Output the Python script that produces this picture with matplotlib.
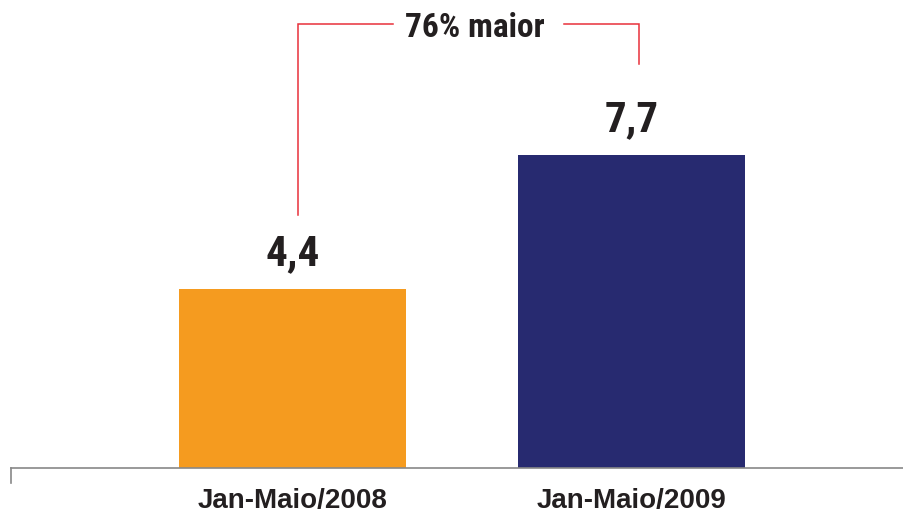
import matplotlib
matplotlib.use("Agg")
from matplotlib import pyplot as plt

# ===================================================================
# Data
# ===================================================================
categories = ["Jan-Maio/2008", "Jan-Maio/2009"]
values = [4.4, 7.7]
value_labels = ["4,4", "7,7"]
growth_label = "76% maior"

bar_colors = ["#F59B1F", "#272A70"]
text_color = "#231F20"
red = "#E8303A"

plt.rcParams["font.family"] = ["Roboto Condensed", "DejaVu Sans"]

fig = plt.figure(figsize=(9.04, 5.15), dpi=100)
# axes covers from baseline tick to right edge, top of the figure
ax = fig.add_axes([11 / 904, 47 / 515, 893 / 904, 468 / 515])
x = list(range(len(categories)))
ax.bar(x, values, width=0.67, color=bar_colors)
ax.set_xlim(-0.830, 1.804)
ax.set_ylim(0, 11.5)

# value labels
for xi, v, lab in zip(x, values, value_labels):
    ax.text(xi, v + 0.58, lab, ha="center", va="baseline", fontsize=31,
            fontweight="bold", color=text_color)

# category labels
for xi, lab in zip(x, categories):
    ax.text(xi, -0.99, lab, ha="center", va="baseline", fontsize=20,
            fontweight="bold", color=text_color,
            family=["Liberation Sans", "DejaVu Sans"])

# bracket showing growth
top = 10.91
gap_l, gap_r = 0.298, 0.802
ax.plot([0.016, 0.016, gap_l], [values[0] + 1.82, top, top], color=red, lw=1.1,
        solid_joinstyle="miter")
ax.plot([gap_r, 1.022, 1.022], [top, top, values[1] + 2.23], color=red, lw=1.1,
        solid_joinstyle="miter")
ax.text(0.538, 10.59, growth_label, ha="center", va="baseline", fontsize=24,
        fontweight="bold", color=text_color)

# baseline with small tick on the left
for s in ["top", "right", "left"]:
    ax.spines[s].set_visible(False)
ax.spines["bottom"].set_color("#888888")
ax.spines["bottom"].set_linewidth(1.2)
ax.set_xticks([])
ax.set_yticks([])
ax.plot([-0.830, -0.830], [0, -0.37], color="#888888", lw=1.2, clip_on=False)

fig.savefig("out.png", dpi=100)
